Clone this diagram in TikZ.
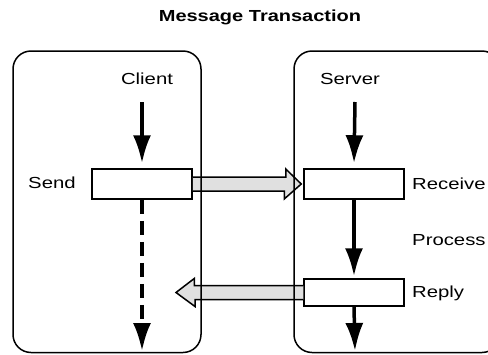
\documentclass[tikz,border=0pt]{standalone}
\usepackage{fontspec}
\setmainfont{Liberation Sans}[FakeStretch=1.27]
\newfontfamily\titlefont{Liberation Sans}[FakeStretch=1.25]
\usetikzlibrary{arrows.meta}
\definecolor{flowgrey}{HTML}{E0E0E0}
\tikzset{
  panel/.style={draw=black, line width=1.5pt, rounded corners=18pt},
  stepbox/.style={draw=black, line width=1.5pt, fill=white, minimum width=100pt, inner sep=0pt},
  lbl/.style={inner sep=0pt, font=\fontsize{16}{18}\selectfont},
  vflow/.style={line width=3.5pt, -{Latex[length=28pt,width=18pt]}},
  dflow/.style={vflow, dash pattern=on 14pt off 7pt},
  hollow/.style={fill=flowgrey, draw=black, line width=1.5pt, line join=miter}
}
\begin{document}
\begin{tikzpicture}[x=1pt,y=-1pt]
\useasboundingbox (0,0) rectangle (488,354);
\clip (0,0) rectangle (488,354);
\fill[white] (0,0) rectangle (488,354);

% title
\node[inner sep=0pt, font=\titlefont\fontsize{16}{18}\selectfont\bfseries] (title) at (260,17) {Message Transaction};

% step boxes
\node[stepbox, minimum height=30pt] (send) at (142,184) {};
\node[stepbox, minimum height=30pt] (recv) at (354,184) {};
\node[stepbox, minimum height=27pt] (reply) at (354,292.5) {};

% labels
\node[lbl] (client) at (147,79) {Client};
\node[lbl] (server) at (350,79) {Server};
\node[lbl, anchor=west] (sendl) at (28,183) {Send};
\node[lbl, anchor=west] (recvl) at (412,184) {Receive};
\node[lbl, anchor=west] (procl) at (412,240) {Process};
\node[lbl, anchor=west] (replyl) at (412,293) {Reply};

% free ends
\coordinate (c0) at (142,102);
\coordinate (cend) at (142,351);
\coordinate (s0) at (355,102);
\coordinate (send2) at (355,351);
\coordinate (ltip) at (176,292.5);

% vertical flows
\draw[vflow] (c0) -- ([yshift=5pt]send.north);
\draw[dflow] (send.south) -- (cend);
\draw[vflow] (s0) -- ([yshift=5pt]recv.north);
\draw[vflow] (recv.south) -- ([yshift=2pt]reply.north);
\draw[vflow] (reply.south) -- (send2);

% hollow message arrows
\filldraw[hollow] ([yshift=7pt]send.east) -- ++(93,0) -- ++(0,-8)
  -- ([xshift=-2pt]recv.west) -- ++(-17,15) -- ++(0,-8) -- ([yshift=-7pt]send.east);
\filldraw[hollow] ([yshift=7pt]reply.west) -- ++(-109,0) -- ++(0,-7)
  -- (ltip) -- ++(19,14) -- ++(0,-7) -- ([yshift=-7pt]reply.west);

% panels
\draw[panel] (13,51) rectangle (201,352.5);
\draw[panel] (294,51) rectangle (500,352.5);
\end{tikzpicture}
\end{document}
